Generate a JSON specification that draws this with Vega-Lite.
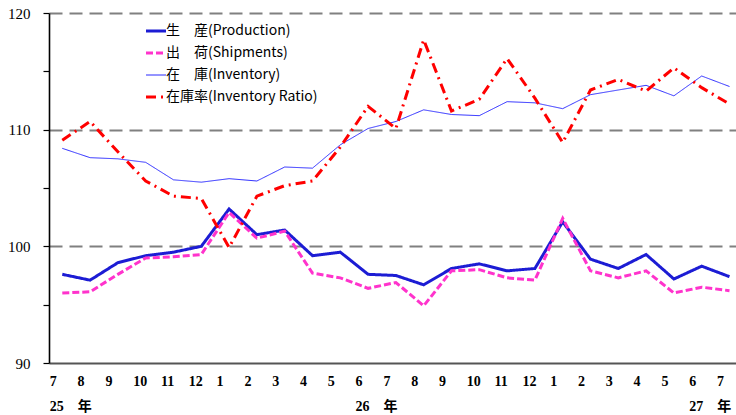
{
  "$schema": "https://vega.github.io/schema/vega-lite/v6.json",
  "autosize": {"type": "none"},
  "padding": {"left": 49, "top": 13, "right": 0, "bottom": 52},
  "width": 687,
  "height": 350,
  "background": "white",
  "config": {"view": {"stroke": null}},
  "data": {
    "values": [
      {"i": 0, "生　産(Production)": 97.6, "出　荷(Shipments)": 96.0, "在　庫(Inventory)": 108.4, "在庫率(Inventory Ratio)": 109.1},
      {"i": 1, "生　産(Production)": 97.1, "出　荷(Shipments)": 96.1, "在　庫(Inventory)": 107.6, "在庫率(Inventory Ratio)": 110.7},
      {"i": 2, "生　産(Production)": 98.6, "出　荷(Shipments)": 97.6, "在　庫(Inventory)": 107.5, "在庫率(Inventory Ratio)": 108.1},
      {"i": 3, "生　産(Production)": 99.2, "出　荷(Shipments)": 99.0, "在　庫(Inventory)": 107.2, "在庫率(Inventory Ratio)": 105.6},
      {"i": 4, "生　産(Production)": 99.5, "出　荷(Shipments)": 99.1, "在　庫(Inventory)": 105.7, "在庫率(Inventory Ratio)": 104.3},
      {"i": 5, "生　産(Production)": 100.0, "出　荷(Shipments)": 99.3, "在　庫(Inventory)": 105.5, "在庫率(Inventory Ratio)": 104.1},
      {"i": 6, "生　産(Production)": 103.2, "出　荷(Shipments)": 102.9, "在　庫(Inventory)": 105.8, "在庫率(Inventory Ratio)": 99.9},
      {"i": 7, "生　産(Production)": 101.0, "出　荷(Shipments)": 100.7, "在　庫(Inventory)": 105.6, "在庫率(Inventory Ratio)": 104.3},
      {"i": 8, "生　産(Production)": 101.4, "出　荷(Shipments)": 101.3, "在　庫(Inventory)": 106.8, "在庫率(Inventory Ratio)": 105.2},
      {"i": 9, "生　産(Production)": 99.2, "出　荷(Shipments)": 97.7, "在　庫(Inventory)": 106.7, "在庫率(Inventory Ratio)": 105.6},
      {"i": 10, "生　産(Production)": 99.5, "出　荷(Shipments)": 97.3, "在　庫(Inventory)": 108.7, "在庫率(Inventory Ratio)": 108.5},
      {"i": 11, "生　産(Production)": 97.6, "出　荷(Shipments)": 96.4, "在　庫(Inventory)": 110.1, "在庫率(Inventory Ratio)": 112.0},
      {"i": 12, "生　産(Production)": 97.5, "出　荷(Shipments)": 96.9, "在　庫(Inventory)": 110.7, "在庫率(Inventory Ratio)": 110.1},
      {"i": 13, "生　産(Production)": 96.7, "出　荷(Shipments)": 94.9, "在　庫(Inventory)": 111.7, "在庫率(Inventory Ratio)": 117.7},
      {"i": 14, "生　産(Production)": 98.1, "出　荷(Shipments)": 97.9, "在　庫(Inventory)": 111.3, "在庫率(Inventory Ratio)": 111.6},
      {"i": 15, "生　産(Production)": 98.5, "出　荷(Shipments)": 98.0, "在　庫(Inventory)": 111.2, "在庫率(Inventory Ratio)": 112.6},
      {"i": 16, "生　産(Production)": 97.9, "出　荷(Shipments)": 97.3, "在　庫(Inventory)": 112.4, "在庫率(Inventory Ratio)": 116.1},
      {"i": 17, "生　産(Production)": 98.1, "出　荷(Shipments)": 97.1, "在　庫(Inventory)": 112.3, "在庫率(Inventory Ratio)": 112.7},
      {"i": 18, "生　産(Production)": 102.1, "出　荷(Shipments)": 102.4, "在　庫(Inventory)": 111.8, "在庫率(Inventory Ratio)": 108.9},
      {"i": 19, "生　産(Production)": 98.9, "出　荷(Shipments)": 97.9, "在　庫(Inventory)": 113.0, "在庫率(Inventory Ratio)": 113.4},
      {"i": 20, "生　産(Production)": 98.1, "出　荷(Shipments)": 97.3, "在　庫(Inventory)": 113.4, "在庫率(Inventory Ratio)": 114.3},
      {"i": 21, "生　産(Production)": 99.3, "出　荷(Shipments)": 97.9, "在　庫(Inventory)": 113.8, "在庫率(Inventory Ratio)": 113.3},
      {"i": 22, "生　産(Production)": 97.2, "出　荷(Shipments)": 96.0, "在　庫(Inventory)": 112.9, "在庫率(Inventory Ratio)": 115.3},
      {"i": 23, "生　産(Production)": 98.3, "出　荷(Shipments)": 96.5, "在　庫(Inventory)": 114.6, "在庫率(Inventory Ratio)": 113.6},
      {"i": 24, "生　産(Production)": 97.4, "出　荷(Shipments)": 96.2, "在　庫(Inventory)": 113.7, "在庫率(Inventory Ratio)": 112.2}
    ]
  },
  "transform": [
    {"fold": ["生　産(Production)", "出　荷(Shipments)", "在　庫(Inventory)", "在庫率(Inventory Ratio)"], "as": ["series", "value"]}
  ],
  "mark": {"type": "line", "clip": true},
  "encoding": {
    "x": {
      "field": "i",
      "type": "quantitative",
      "scale": {"domain": [-0.478, 24.234], "nice": false, "zero": false},
      "axis": {
        "title": null,
        "grid": false,
        "ticks": false,
        "values": [0,1,2,3,4,5,6,7,8,9,10,11,12,13,14,15,16,17,18,19,20,21,22,23,24],
        "labelExpr": "[['7','25　年'],'8','9','10','11','12','1','2','3','4','5',['6','26　年'],'7','8','9','10','11','12','1','2','3','4','5',['6','27　年'],'7'][datum.value]",
        "labelAlign": "left",
        "labelOffset": -13,
        "labelPadding": 11,
        "labelLineHeight": 25,
        "labelFont": "Liberation Serif, Noto Sans CJK JP",
        "labelFontWeight": "bold",
        "labelFontSize": 14,
        "labelColor": "black",
        "labelOverlap": false,
        "labelBound": false,
        "labelFlush": false,
        "domainColor": "#555555",
        "domainWidth": 2
      }
    },
    "y": {
      "field": "value",
      "type": "quantitative",
      "scale": {"domain": [90, 120], "nice": false, "zero": false},
      "axis": {
        "title": null,
        "values": [90, 95, 100, 105, 110, 115, 120],
        "labelExpr": "datum.value % 10 == 0 ? datum.label : ''",
        "labelFont": "Liberation Serif",
        "labelFontSize": 15,
        "labelColor": "black",
        "labelPadding": 13,
        "labelOverlap": false,
        "tickSize": 6,
        "tickColor": "black",
        "tickWidth": 1.2,
        "domainColor": "black",
        "domainWidth": 1.6,
        "grid": true,
        "gridColor": "#808080",
        "gridWidth": 2,
        "gridDash": [13, 7],
        "gridOpacity": {"condition": {"test": "datum.value % 10 == 0 && datum.value > 90", "value": 1}, "value": 0}
      }
    },
    "color": {
      "field": "series",
      "type": "nominal",
      "scale": {
        "domain": ["生　産(Production)", "出　荷(Shipments)", "在　庫(Inventory)", "在庫率(Inventory Ratio)"],
        "range": ["#1c1cd4", "#ff33cc", "#2a2aff", "#ff0000"]
      },
      "legend": {
        "title": null,
        "orient": "none",
        "legendX": 100,
        "legendY": 11,
        "symbolType": "stroke",
        "symbolSize": 400,
        "labelOffset": 3,
        "rowPadding": 8,
        "padding": 0,
        "labelFont": "Noto Sans CJK JP",
        "labelFontSize": 14,
        "labelColor": "black",
        "labelLimit": 300,
        "encode": {
          "symbols": {"update": {
            "strokeWidth": {"signal": "datum.value === '在　庫(Inventory)' ? 1 : 3"},
            "strokeDash": {"signal": "datum.value === '出　荷(Shipments)' ? [5,3] : datum.value === '在庫率(Inventory Ratio)' ? [8,6,2,6] : [1,0]"}
          }}
        }
      }
    },
    "strokeDash": {
      "field": "series",
      "type": "nominal",
      "scale": {
        "domain": ["生　産(Production)", "出　荷(Shipments)", "在　庫(Inventory)", "在庫率(Inventory Ratio)"],
        "range": [[1, 0], [7, 3], [1, 0], [10, 5, 2, 5]]
      },
      "legend": null
    },
    "strokeWidth": {
      "condition": {"test": "datum.series === '在　庫(Inventory)'", "value": 1},
      "value": 3
    }
  }
}
